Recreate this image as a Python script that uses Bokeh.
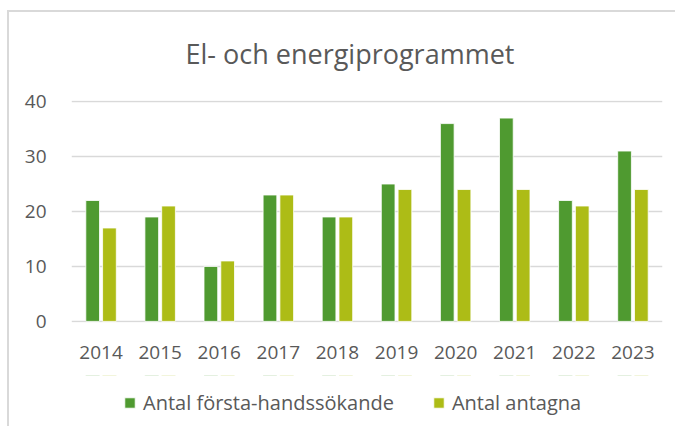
from bokeh.plotting import figure
from bokeh.layouts import column
from bokeh.models import FactorRange, Range1d, FixedTicker, Legend, LegendItem, ColumnDataSource
from bokeh.transform import dodge
from bokeh.embed import file_html
from bokeh.resources import INLINE

years = ["2014", "2015", "2016", "2017", "2018", "2019", "2020", "2021", "2022", "2023"]
forsta_hand = [22, 19, 10, 23, 19, 25, 36, 37, 22, 31]
antagna = [17, 21, 11, 23, 19, 24, 24, 24, 21, 24]
title_text = "El- och energiprogrammet"
series_names = ["Antal första-handssökande", "Antal antagna"]
y_ticks = [0, 10, 20, 30, 40]

FONT = "Open Sans"
TXT = "#595959"
C1 = "#4f9a30"
C2 = "#adbc16"

src = ColumnDataSource(dict(year=years, a=forsta_hand, b=antagna))
x_range = FactorRange(*years, range_padding=0)

p = figure(width=675, height=375, output_backend="svg", toolbar_location=None,
           x_range=x_range, y_range=Range1d(-0.2, 40.2),
           min_border_left=71, min_border_right=13, min_border_top=100, min_border_bottom=53)
p.outline_line_color = None
p.background_fill_color = None
p.border_fill_color = None

p.title.text = title_text
p.title.align = "left"
p.title.text_font = FONT
p.title.text_font_size = "27px"
p.title.text_font_style = "normal"
p.title.text_color = TXT
p.title.standoff = 57
p.title.offset = 114

bar_style = dict(source=src, width=0.232, line_color="white", line_width=0.8)
r1 = p.vbar(x=dodge("year", -0.142, range=x_range), top="a", fill_color=C1, **bar_style)
r2 = p.vbar(x=dodge("year", 0.142, range=x_range), top="b", fill_color=C2, **bar_style)

p.xgrid.grid_line_color = None
p.ygrid.grid_line_color = "#d9d9d9"
p.ygrid.grid_line_width = 1.5
p.yaxis.ticker = FixedTicker(ticks=y_ticks)

for ax in (p.xaxis[0], p.yaxis[0]):
    ax.axis_line_color = None
    ax.major_tick_line_color = None
    ax.minor_tick_line_color = None
    ax.major_label_text_font = FONT
    ax.major_label_text_font_size = "19px"
    ax.major_label_text_color = TXT
p.yaxis.major_label_standoff = 19
p.xaxis.major_label_standoff = 17
p.xaxis.group_text_font_size = "0px"

# legend strip below the chart; its renderers are zero-height bars far outside its y range,
# so only the legend swatches show
lf = figure(width=675, height=51, output_backend="svg", toolbar_location=None,
            x_range=x_range, y_range=Range1d(-300, -200),
            min_border_left=71, min_border_right=13, min_border_top=0, min_border_bottom=0)
lf.outline_line_color = None
lf.axis.visible = False
lf.grid.visible = False
lf.border_fill_color = None
lf.background_fill_color = None
l1 = lf.vbar(x=dodge("year", -0.142, range=x_range), top="a", bottom="a", fill_color=C1, **bar_style)
l2 = lf.vbar(x=dodge("year", 0.142, range=x_range), top="b", bottom="b", fill_color=C2, **bar_style)

legend = Legend(items=[LegendItem(label=series_names[0], renderers=[l1]),
                       LegendItem(label=series_names[1], renderers=[l2])],
                orientation="horizontal", location=(52, 10),
                label_text_font=FONT, label_text_font_size="20px", label_text_color=TXT,
                glyph_width=13, glyph_height=13, label_standoff=7, spacing=38,
                padding=0, margin=0, border_line_color=None, background_fill_alpha=0)
lf.add_layout(legend, "center")

layout = column(p, lf, spacing=0)
layout.styles = {"background": "linear-gradient(#d9d9d9, #d9d9d9) 7px 10px / 2px 100% no-repeat, "
                               "linear-gradient(#d9d9d9, #d9d9d9) 7px 10px / 100% 2px no-repeat, white"}
open("out.html", "w").write(file_html(layout, INLINE))
